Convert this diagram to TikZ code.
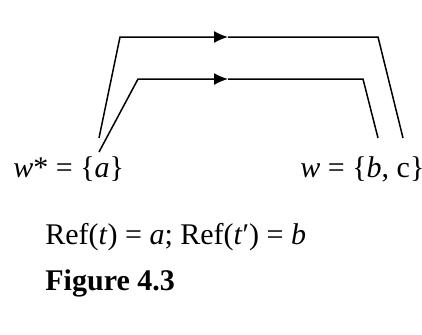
\documentclass[tikz,border=0pt]{standalone}
\usepackage{fontspec}
\setmainfont{Liberation Serif}
\usetikzlibrary{arrows.meta}

\begin{document}
\begin{tikzpicture}[
      x=0.5pt, y=-0.5pt,
      label/.style={inner sep=0pt, anchor=base west,
                    font=\fontsize{15}{18}\selectfont},
      link/.style={line width=0.75pt, line join=miter},
      arrow/.style={-{Latex[length=7pt, width=6pt]}}
    ]
    \useasboundingbox (0,0) rectangle (422,334);
    \node[label] (wstar) at (13,177) {\textit{w}* = \{\textit{a}\}};
    \node[label] (w) at (300,177) {\textit{w} = \{\textit{b}, c\}};
    \node[label] (ref) at (45,244) {Ref(\textit{t}) = \textit{a}; Ref(\textit{t}′) = \textit{b}};
    \node[label, font=\fontsize{15}{18}\selectfont\bfseries] (fig) at (45,290) {Figure 4.3};
    % outer path: a to c
    \coordinate (outerL) at (99,138);
    \coordinate (outerTL) at (120,37);
    \coordinate (outerM) at (228,37);
    \coordinate (outerTR) at (378,37);
    \coordinate (outerR) at (403,138);
    % inner path: a to b
    \coordinate (innerL) at (99,152);
    \coordinate (innerTL) at (138,79);
    \coordinate (innerM) at (228,79);
    \coordinate (innerTR) at (363,79);
    \coordinate (innerR) at (378,138);
    \draw[link, arrow] (outerL) -- (outerTL) -- (outerM);
    \draw[link] (outerM) -- (outerTR) -- (outerR);
    \draw[link, arrow] (innerL) -- (innerTL) -- (innerM);
    \draw[link] (innerM) -- (innerTR) -- (innerR);
  \end{tikzpicture}
\end{document}
